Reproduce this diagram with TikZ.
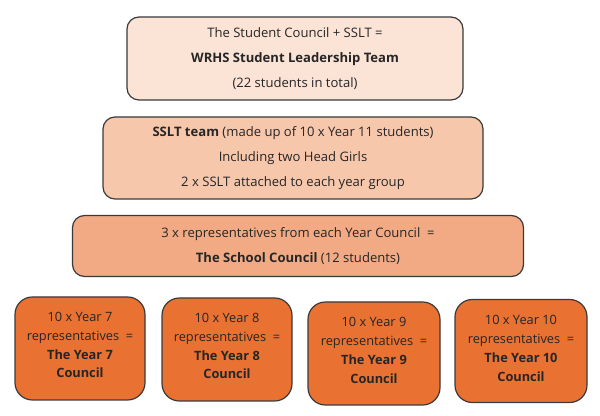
\documentclass[tikz,border=0pt]{standalone}
\usepackage{fontspec}
\setmainfont{Open Sans}
\definecolor{cA}{HTML}{FBE3D6}
\definecolor{cB}{HTML}{F7C7AC}
\definecolor{cC}{HTML}{F2AA84}
\definecolor{cD}{HTML}{E97132}
\definecolor{edge}{HTML}{3A3A3A}
\begin{document}
\begin{tikzpicture}[x=0.75pt,y=-0.75pt,
  tierbox/.style={draw=edge,line width=0.9pt,rounded corners=9pt,inner sep=0pt,align=center,
    font=\fontsize{9.8pt}{18.75pt}\selectfont,text=black!85},
  yearbox/.style={draw=edge,line width=0.9pt,rounded corners=13pt,fill=cD,inner sep=0pt,
    minimum width=130*0.75pt,minimum height=103*0.75pt},
  yeartext/.style={inner sep=0pt,align=center,font=\fontsize{9.6pt}{14.2pt}\selectfont,text=black!85}]
\useasboundingbox (0,0) rectangle (600,416);
\node[tierbox,fill=cA,minimum width=336*0.75pt,minimum height=83*0.75pt] (top) at (295,58.5)
  {The Student Council + SSLT =\\\textbf{WRHS Student Leadership Team}\\(22 students in total)};
\node[tierbox,fill=cB,minimum width=380*0.75pt,minimum height=82*0.75pt] (sslt) at (293,158)
  {\textbf{SSLT team} (made up of 10 x Year 11 students)\\Including two Head Girls\\2 x SSLT attached to each year group};
\node[tierbox,fill=cC,minimum width=451*0.75pt,minimum height=61*0.75pt] (school) at (298,246)
  {3 x representatives from each Year Council\ \ =\\\textbf{The School Council} (12 students)};
\node[yearbox] (y7) at (80,348.5) {};
\node[yearbox] (y8) at (227,349.5) {};
\node[yearbox,minimum width=132*0.75pt] (y9) at (374,353.5) {};
\node[yearbox,minimum width=132*0.75pt] (y10) at (521,351) {};
\node[yeartext] (y7t) at ([yshift=3.5*0.75pt]y7.center) {10 x Year 7\\representatives\ \ =\\\textbf{The Year 7}\\\textbf{Council}};
\node[yeartext] (y8t) at ([yshift=3.5*0.75pt]y8.center) {10 x Year 8\\representatives\ \ =\\\textbf{The Year 8}\\\textbf{Council}};
\node[yeartext] (y9t) at ([yshift=3*0.75pt]y9.center) {10 x Year 9\\representatives\ \ =\\\textbf{The Year 9}\\\textbf{Council}};
\node[yeartext] (y10t) at ([yshift=2.5*0.75pt]y10.center) {10 x Year 10\\representatives\ \ =\\\textbf{The Year 10}\\\textbf{Council}};
\end{tikzpicture}
\end{document}
